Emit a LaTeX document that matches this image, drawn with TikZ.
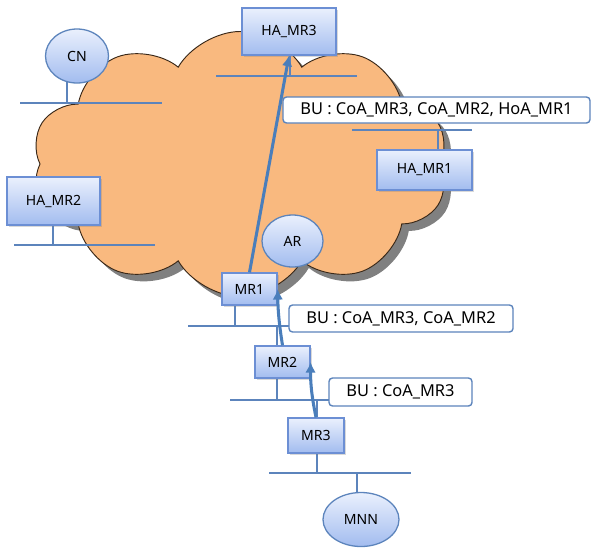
\documentclass[tikz,border=0pt]{standalone}
\usepackage{fontspec}
\setmainfont{Noto Sans}
\usepackage{tikz}
\usetikzlibrary{shapes.symbols,shapes.geometric,shadows,arrows.meta,backgrounds}

\definecolor{cloudfill}{HTML}{F9B97F}
\definecolor{cloudline}{HTML}{3A2818}
\definecolor{netblue}{HTML}{5C84BC}
\definecolor{boxline}{HTML}{6C8FD4}
\definecolor{boxtop}{HTML}{EAF0FD}
\definecolor{boxbot}{HTML}{A2BCEF}
\definecolor{arrowblue}{HTML}{4A7EBB}

\tikzset{
  router/.style={rectangle, draw=boxline, line width=1.1pt,
    top color=boxtop, bottom color=boxbot, inner sep=0pt,
    font=\fontsize{12}{14}\selectfont,
    drop shadow={shadow xshift=1.5pt, shadow yshift=-1.5pt, opacity=0.3}},
  host/.style={ellipse, draw=netblue, line width=1.1pt,
    top color=boxtop, bottom color=boxbot, inner sep=0pt,
    font=\fontsize{12}{14}\selectfont},
  bulabel/.style={rectangle, rounded corners=3pt, draw=netblue,
    line width=1.2pt, fill=white, inner sep=0pt,
    font=\fontsize{14}{16}\selectfont},
  bus/.style={draw=netblue, line width=1.4pt},
  buarrow/.style={draw=arrowblue, line width=2.6pt,
    -{Latex[length=9pt,width=9pt]}},
}

\begin{document}
\begin{tikzpicture}[x=0.03cm, y=-0.03cm]
  \useasboundingbox (0,0) rectangle (591,547);

  % hosts and routers
  \node[router, minimum width=2.82cm, minimum height=1.41cm] (HAMR3) at (289,31.5) {HA\_MR3};
  \node[router, minimum width=2.79cm, minimum height=1.44cm] (HAMR2) at (53.5,201) {HA\_MR2};
  \node[router, minimum width=2.85cm, minimum height=1.2cm] (HAMR1) at (424.5,170) {HA\_MR1};
  \node[host, minimum width=1.89cm, minimum height=1.62cm] (CN) at (77,56) {CN};
  \node[host, minimum width=1.83cm, minimum height=1.56cm] (AR) at (292.5,241) {AR};
  \node[router, minimum width=1.65cm, minimum height=0.96cm] (MR1) at (249.5,289) {MR1};
  \node[router, minimum width=1.65cm, minimum height=0.96cm] (MR2) at (282.5,362) {MR2};
  \node[router, minimum width=1.68cm, minimum height=1.05cm] (MR3) at (316,435.5) {MR3};
  \node[host, minimum width=2.28cm, minimum height=1.62cm] (MNN) at (361,519.5) {MNN};

  \begin{scope}[on background layer]
    % internet cloud
    \node[cloud, cloud puffs=10, cloud puff arc=120, cloud ignores aspect,
      minimum width=12.5cm, minimum height=7.95cm, fill=cloudfill,
      draw=cloudline, line width=0.8pt,
      drop shadow={shadow xshift=6pt, shadow yshift=-6pt, fill=black!50, opacity=1}]
      (net) at (240,164) {};

    % links
    \coordinate (cnbusL) at (20,103);   \coordinate (cnbusR) at (162,103);
    \coordinate (h3busL) at (216,76);   \coordinate (h3busR) at (357,76);
    \coordinate (h2busL) at (14,245);   \coordinate (h2busR) at (155,245);
    \coordinate (h1busL) at (352,130);  \coordinate (h1busR) at (472,130);
    \coordinate (m1busL) at (188,326);  \coordinate (m1busR) at (290,326);
    \coordinate (m2busL) at (230,400);  \coordinate (m2busR) at (330,400);
    \coordinate (m3busL) at (269,473);  \coordinate (m3busR) at (411,473);
    \coordinate (cnT) at (67,103);
    \coordinate (h3T) at (290,76);
    \coordinate (h2T) at (53,245);
    \coordinate (h1T) at (438,130);
    \coordinate (m1T) at (235,326);
    \coordinate (m2T) at (277,326);
    \coordinate (m2B) at (277,400);
    \coordinate (m3T) at (317,400);
    \coordinate (m3B) at (317,473);
    \coordinate (mnnT) at (357,473);

    \draw[bus] (cnbusL) -- (cnbusR);
    \draw[bus] (h3busL) -- (h3busR);
    \draw[bus] (h2busL) -- (h2busR);
    \draw[bus] (h1busL) -- (h1busR);
    \draw[bus] (m1busL) -- (m1busR);
    \draw[bus] (m2busL) -- (m2busR);
    \draw[bus] (m3busL) -- (m3busR);

    \draw[bus] (CN -| cnT) -- (cnT);
    \draw[bus] (HAMR3 -| h3T) -- (h3T);
    \draw[bus] (HAMR2 -| h2T) -- (h2T);
    \draw[bus] (HAMR1 -| h1T) -- (h1T);
    \draw[bus] (MR1 -| m1T) -- (m1T);
    \draw[bus] (MR2 -| m2T) -- (m2T);
    \draw[bus] (MR2 -| m2B) -- (m2B);
    \draw[bus] (MR3 -| m3T) -- (m3T);
    \draw[bus] (MR3 -| m3B) -- (m3B);
    \draw[bus] (MNN -| mnnT) -- (mnnT);
  \end{scope}

  % binding updates
  \draw[buarrow] (MR3.north) to[bend left=6] (MR2.east);
  \draw[buarrow] (MR2.north) to[bend left=4] (MR1.east);
  \draw[buarrow] (MR1.north) -- (HAMR3.south);

  \node[bulabel, minimum width=9.21cm, minimum height=0.78cm] (bu1) at (436.5,110) {BU : CoA\_MR3, CoA\_MR2, HoA\_MR1};
  \node[bulabel, minimum width=6.72cm, minimum height=0.81cm] (bu2) at (401,318.5) {BU : CoA\_MR3, CoA\_MR2};
  \node[bulabel, minimum width=4.29cm, minimum height=0.84cm] (bu3) at (400.5,392) {BU : CoA\_MR3};
\end{tikzpicture}
\end{document}
